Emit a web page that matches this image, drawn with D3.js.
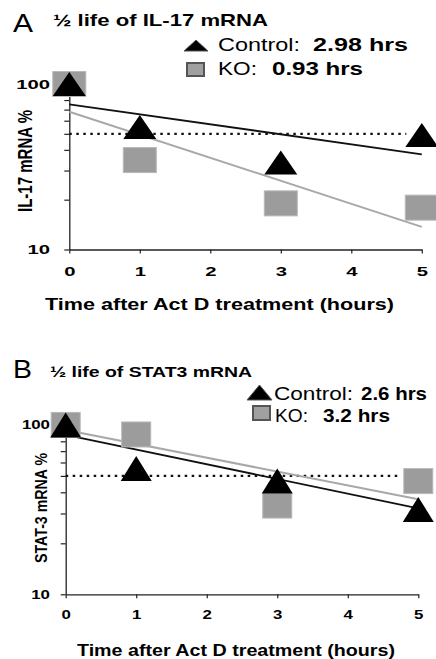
<!DOCTYPE html>
<html>
<head>
<meta charset="utf-8">
<script src="https://cdn.jsdelivr.net/npm/d3@7"></script>
<style>
  html, body { margin: 0; padding: 0; background: #fff; }
  svg { display: block; font-family: "Liberation Sans", Arial, Helvetica, sans-serif; }
</style>
</head>
<body>
<svg id="chart" width="436" height="659"></svg>
<script>
// ---- data ----
const times = [0, 1, 3, 5];
const fitTimes = [0, 5];
const xTicks = [0, 1, 2, 3, 4, 5];
const yTicks = [10, 20, 30, 40, 50, 60, 70, 80, 90, 100];
const yTickLabels = [10, 100];

// Panel A: IL-17 mRNA
const controlA = [100, 55.0, 33.6, 49.2];
const koA = [100, 34.7, 19.0, 17.9];
const controlFitA = [75.4, 37.6];
const koFitA = [68.0, 13.7];
const halfTimesA = [0, 4.78];
const halfValuesA = [50, 50];

// Panel B: STAT3 mRNA
const controlB = [100, 55.3, 46.6, 31.7];
const koB = [100, 87.8, 33.4, 46.6];
const controlFitB = [87.2, 32.2];
const koFitB = [93.3, 36.4];
const halfTimesB = [0, 4.71];
const halfValuesB = [50, 50];

// text
const panelLetters = ["A", "B"];
const panelTitles = ["\u00BD life of IL-17 mRNA", "\u00BD life of STAT3 mRNA"];
const yTitles = ["IL-17 mRNA %", "STAT-3 mRNA %"];
const xTitle = "Time after Act D treatment (hours)";
const legendNames = ["Control:", "KO:"];
const halfLivesA = ["2.98 hrs", "0.93 hrs"];
const halfLivesB = ["2.6 hrs", "3.2 hrs"];

// ---- layout ----
const svg = d3.select("#chart");

const panels = [
  {
    control: controlA, ko: koA, controlFit: controlFitA, koFit: koFitA,
    halfT: halfTimesA, halfV: halfValuesA, halfLives: halfLivesA,
    x0: 69.3, x1: 421.8, yTop: 84, yBot: 249.5,
    markW: 33, markH: 25, triW: 33, triH: 24,
    tickFont: 13.5, tickSx: 1.5, yPad: 14.3, xPad: 12.5,
    letter: { x: 13, y: 32, w: 20, size: 26 },
    title: { x: 53, y: 25.5, w: 215, size: 17 },
    yTitle: { x: 32, y: 161, len: 102, size: 15.5, sx: 1.3 },
    xTitle: { x: 45, y: 310, w: 349, size: 16.5 },
    leg: {
      tri: { x: 184, y: 51, w: 24, h: 11 },
      sq: { x: 187, y: 63, w: 17, h: 13 },
      size: 17.5,
      rows: [
        { y: 50.5, nx: 218, nw: 82, vx: 313, vw: 95 },
        { y: 74.5, nx: 218, nw: 39, vx: 272, vw: 91 }
      ]
    }
  },
  {
    control: controlB, ko: koB, controlFit: controlFitB, koFit: koFitB,
    halfT: halfTimesB, halfV: halfValuesB, halfLives: halfLivesB,
    x0: 65.7, x1: 418.3, yTop: 424.9, yBot: 594.3,
    markW: 29, markH: 25, triW: 31, triH: 25,
    tickFont: 12.5, tickSx: 1.35, yPad: 10.7, xPad: 11.7,
    letter: { x: 13, y: 378, w: 19, size: 25 },
    title: { x: 50, y: 377, w: 202, size: 15 },
    yTitle: { x: 47, y: 508, len: 110, size: 14.5, sx: 1.2 },
    xTitle: { x: 77, y: 656, w: 318, size: 16.3 },
    leg: {
      tri: { x: 247, y: 400, w: 25, h: 15 },
      sq: { x: 253, y: 406, w: 17, h: 14 },
      size: 19,
      rows: [
        { y: 400, nx: 274, nw: 79, vx: 361, vw: 66 },
        { y: 421.5, nx: 275, nw: 33, vx: 323, vw: 67 }
      ]
    }
  }
];

function triPath(cx, cy, w, h) {
  return `M${cx - w / 2},${cy + h / 2}L${cx + w / 2},${cy + h / 2}L${cx},${cy - h / 2}Z`;
}

panels.forEach((p, i) => {
  const g = svg.append("g");
  const x = d3.scaleLinear().domain([0, 5]).range([p.x0, p.x1]);
  const y = d3.scaleLog().domain([10, 100]).range([p.yBot, p.yTop]);

  // axes
  const yAxis = d3.axisLeft(y)
    .tickValues(yTicks)
    .tickFormat(d => yTickLabels.includes(d) ? String(d) : "")
    .tickSize(5).tickSizeOuter(0).tickPadding(p.yPad);
  const ya = g.append("g").attr("transform", `translate(${p.x0},0)`).call(yAxis);

  const xAxis = d3.axisBottom(x)
    .tickValues(xTicks).tickFormat(d3.format("d"))
    .tickSize(4).tickSizeOuter(0).tickPadding(p.xPad);
  const xa = g.append("g").attr("transform", `translate(0,${p.yBot})`).call(xAxis);

  [ya, xa].forEach(a => {
    a.select(".domain").attr("stroke", "#222").attr("stroke-width", 1.3);
    a.selectAll(".tick line").attr("stroke", "#222").attr("stroke-width", 1.2);
    a.selectAll(".tick text")
      .attr("fill", "#000")
      .style("font-size", p.tickFont + "px")
      .style("font-weight", "bold")
      .style("font-family", '"Liberation Sans", Arial, sans-serif');
  });
  ya.selectAll(".tick text")
    .attr("x", -(5 + p.yPad) / p.tickSx)
    .attr("transform", `scale(${p.tickSx},1)`);
  xa.selectAll(".tick text")
    .attr("transform", `scale(${p.tickSx},1)`);

  // lines
  const line = d3.line().x(d => x(d[0])).y(d => y(d[1]));
  g.append("path")
    .attr("d", line(p.halfT.map((t, k) => [t, p.halfV[k]])))
    .attr("fill", "none").attr("stroke", "#111")
    .attr("stroke-width", 2.2).attr("stroke-dasharray", "2.5,4.5");
  g.append("path")
    .attr("d", line(fitTimes.map((t, k) => [t, p.koFit[k]])))
    .attr("fill", "none").attr("stroke", "#a8a8a8").attr("stroke-width", 2);
  g.append("path")
    .attr("d", line(fitTimes.map((t, k) => [t, p.controlFit[k]])))
    .attr("fill", "none").attr("stroke", "#111").attr("stroke-width", 1.8);

  // KO squares
  g.selectAll("rect.ko").data(times.map((t, k) => [t, p.ko[k]])).join("rect")
    .attr("class", "ko")
    .attr("x", d => x(d[0]) - p.markW / 2)
    .attr("y", d => y(d[1]) - p.markH / 2)
    .attr("width", p.markW).attr("height", p.markH)
    .attr("fill", "#9c9c9c").attr("stroke", "#b8b8b8").attr("stroke-width", 1);

  // Control triangles
  g.selectAll("path.ctrl").data(times.map((t, k) => [t, p.control[k]])).join("path")
    .attr("class", "ctrl")
    .attr("d", d => triPath(x(d[0]), y(d[1]), p.triW, p.triH))
    .attr("fill", "#000");

  // panel letter
  g.append("text").attr("x", p.letter.x).attr("y", p.letter.y)
    .attr("textLength", p.letter.w).attr("lengthAdjust", "spacingAndGlyphs")
    .style("font-size", p.letter.size + "px").attr("fill", "#000")
    .text(panelLetters[i]);

  // title
  g.append("text").attr("x", p.title.x).attr("y", p.title.y)
    .attr("textLength", p.title.w).attr("lengthAdjust", "spacingAndGlyphs")
    .style("font-size", p.title.size + "px").style("font-weight", "bold").attr("fill", "#000")
    .text(panelTitles[i]);

  // y title
  g.append("text")
    .attr("transform", `translate(${p.yTitle.x},${p.yTitle.y}) scale(${p.yTitle.sx},1) rotate(-90)`)
    .attr("text-anchor", "middle")
    .attr("textLength", p.yTitle.len).attr("lengthAdjust", "spacingAndGlyphs")
    .style("font-size", p.yTitle.size + "px").style("font-weight", "bold").attr("fill", "#000")
    .text(yTitles[i]);

  // x title
  g.append("text").attr("x", p.xTitle.x).attr("y", p.xTitle.y)
    .attr("textLength", p.xTitle.w).attr("lengthAdjust", "spacingAndGlyphs")
    .style("font-size", p.xTitle.size + "px").style("font-weight", "bold").attr("fill", "#000")
    .text(xTitle);

  // legend
  const L = p.leg;
  g.append("path")
    .attr("d", `M${L.tri.x},${L.tri.y}L${L.tri.x + L.tri.w},${L.tri.y}L${L.tri.x + L.tri.w / 2},${L.tri.y - L.tri.h}Z`)
    .attr("fill", "#000").attr("stroke", "#555").attr("stroke-width", 1);
  g.append("rect")
    .attr("x", L.sq.x).attr("y", L.sq.y).attr("width", L.sq.w).attr("height", L.sq.h)
    .attr("fill", "#a0a0a0").attr("stroke", "#555").attr("stroke-width", 2);
  L.rows.forEach((r, k) => {
    g.append("text").attr("x", r.nx).attr("y", r.y)
      .attr("textLength", r.nw).attr("lengthAdjust", "spacingAndGlyphs")
      .style("font-size", L.size + "px").attr("fill", "#000")
      .text(legendNames[k]);
    g.append("text").attr("x", r.vx).attr("y", r.y)
      .attr("textLength", r.vw).attr("lengthAdjust", "spacingAndGlyphs")
      .style("font-size", L.size + "px").style("font-weight", "bold").attr("fill", "#000")
      .text(p.halfLives[k]);
  });
});
</script>
</body>
</html>
